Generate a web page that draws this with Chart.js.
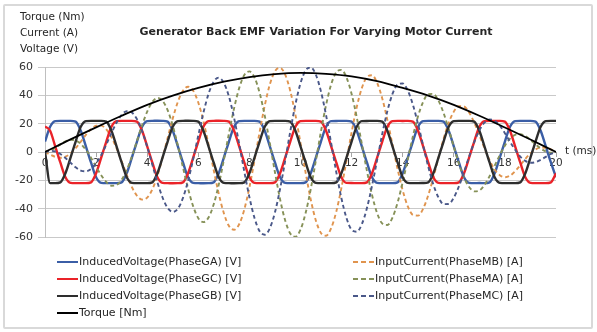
<!DOCTYPE html>
<html>
<head>
<meta charset="utf-8">
<title>Generator Back EMF Variation For Varying Motor Current</title>
<script src="https://cdn.jsdelivr.net/npm/chart.js@4.4.1/dist/chart.umd.min.js"></script>
<style>
html,body{margin:0;padding:0;background:#fff;}
#wrap{position:relative;width:597px;height:332px;overflow:hidden;font-family:"DejaVu Sans",sans-serif;color:#262626;}
#frame{position:absolute;left:3px;top:4px;width:590px;height:325px;border:2px solid #D9D9D9;border-radius:2px;box-sizing:border-box;}
#c{position:absolute;left:0;top:0;}
.lbl{position:absolute;white-space:nowrap;font-size:10.5px;line-height:13px;}
#title{position:absolute;left:0;width:632px;top:25px;text-align:center;font-weight:bold;font-size:11px;line-height:13px;white-space:nowrap;}
.leg{position:absolute;white-space:nowrap;font-size:11px;line-height:13px;height:13px;}
.sw{position:absolute;left:0;top:6px;width:21px;height:2px;}
.leg span{position:absolute;left:22px;top:0;}
</style>
</head>
<body>
<div id="wrap">
  <div id="frame"></div>
  <canvas id="c" width="597" height="332"></canvas>
  <div id="title">Generator Back EMF Variation For Varying Motor Current</div>
  <div class="lbl" style="left:20px;top:10px">Torque (Nm)</div>
  <div class="lbl" style="left:20px;top:26px">Current (A)</div>
  <div class="lbl" style="left:20px;top:42px">Voltage (V)</div>
  <div class="lbl" style="left:565px;top:144px">t (ms)</div>
  <div id="legend"></div>
</div>
<script>
// ---- data (time in ms) ----
const time = [0,0.2,0.4,0.6,0.8,1,1.2,1.4,1.6,1.8,2,2.2,2.4,2.6,2.8,3,3.2,3.4,3.6,3.8,4,4.2,4.4,4.6,4.8,5,5.2,5.4,5.6,5.8,6,6.2,6.4,6.6,6.8,7,7.2,7.4,7.6,7.8,8,8.2,8.4,8.6,8.8,9,9.2,9.4,9.6,9.8,10,10.2,10.4,10.6,10.8,11,11.2,11.4,11.6,11.8,12,12.2,12.4,12.6,12.8,13,13.2,13.4,13.6,13.8,14,14.2,14.4,14.6,14.8,15,15.2,15.4,15.6,15.8,16,16.2,16.4,16.6,16.8,17,17.2,17.4,17.6,17.8,18,18.2,18.4,18.6,18.8,19,19.2,19.4,19.6,19.8,20];

const voltGA = [7.4,17.8,21.8,22,22,22,21.4,15,4,-7.4,-17.8,-21.8,-22,-22,-22,-21.4,-15,-4,
7.4,17.8,21.8,22,22.1,22,21.4,15,4,-7.4,-17.8,-21.8,-22,-22.1,-22,-21.4,-15,-4,
7.4,17.8,21.8,22,22,22,21.4,15,4,-7.4,-17.8,-21.8,-22,-22,-22,-21.4,-15,-4,
7.4,17.8,21.8,21.9,22,22,21.4,15,4,-7.4,-17.8,-21.8,-22,-22,-22,-21.4,-15,-4,
7.4,17.8,21.8,22,22,22,21.4,15,4,-7.4,-17.8,-21.8,-22,-21.9,-22,-21.4,-15,-4,
7.4,17.8,21.8,22,22,22,21.4,15,4,-7.4,-17.8];

const voltGB = [0,-22,-22,-21.4,-15,-4,7.4,17.8,21.8,22,22,22,21.4,15,4,-7.4,-17.8,-21.8,
-22,-22,-22,-21.4,-15,-4,7.4,17.8,21.8,22,22.1,22,21.4,15,4,-7.4,-17.8,-21.8,
-22,-22.1,-22,-21.4,-15,-4,7.4,17.8,21.8,22,22,22,21.4,15,4,-7.4,-17.8,-21.8,
-22,-22,-22,-21.4,-15,-4,7.4,17.8,21.8,21.9,22,22,21.4,15,4,-7.4,-17.8,-21.8,
-22,-22,-21.9,-21.4,-15,-4,7.4,17.8,21.8,22,22,22,21.4,15,4,-7.4,-17.8,-21.8,
-22,-22,-22,-21.4,-15,-4,7.4,17.8,21.8,22,22];

const voltGC = [18,15,4,-7.4,-17.8,-21.8,-22,-22,-22,-21.4,-15,-4,7.4,17.8,21.8,22,22,22,
21.4,15,4,-7.4,-17.8,-21.8,-22,-22.1,-22,-21.4,-15,-4,7.4,17.8,21.8,22,22.1,22,
21.4,15,4,-7.4,-17.8,-21.8,-22,-22,-22,-21.4,-15,-4,7.4,17.8,21.8,22,22,22,
21.4,15,4,-7.4,-17.8,-21.8,-21.9,-22,-22,-21.4,-15,-4,7.4,17.8,21.8,22,21.9,22,
21.4,15,4,-7.4,-17.8,-21.8,-22,-22,-22,-21.4,-15,-4,7.4,17.8,21.8,22,22,22,
21.4,15,4,-7.4,-17.8,-21.8,-22,-22,-22,-21.4,-15];

const currMB = [0,-1.9,-3.4,-4.1,-3.3,-1.0,2.7,7.3,12.1,16.1,
18.5,18.6,15.9,10.4,2.7,-6.6,-16.2,-24.7,-30.9,-33.6,
-32.2,-26.4,-16.8,-4.1,9.9,23.7,35.4,43.3,46.1,43.3,
34.9,21.8,5.3,-12.5,-29.4,-43.2,-52.2,-54.9,-51.0,-40.6,
-25.0,-6.0,14.1,32.7,47.7,57.0,59.4,54.6,43.1,26.3,
6.3,-14.5,-33.5,-48.3,-57.2,-59.1,-53.8,-42.1,-25.5,-6.0,
13.8,31.6,45.1,52.9,54.2,48.8,37.8,22.6,5.3,-12.0,
-27.1,-38.4,-44.4,-44.9,-40.0,-30.5,-18.0,-4.1,9.3,20.6,
28.5,32.4,32.1,27.9,20.8,11.9,2.7,-5.8,-12.4,-16.4,
-17.8,-16.7,-13.6,-9.4,-4.9,-1.0,1.8,3.2,3.0,1.8,
0];

const currMA = [0,1.1,3.0,5.4,7.5,8.6,8.1,5.7,1.6,-4.0,
-10.4,-16.4,-21.2,-23.8,-23.3,-19.6,-12.7,-3.2,7.8,18.9,
28.5,35.3,38.2,36.2,29.5,18.6,4.6,-10.9,-25.9,-38.4,
-46.7,-49.5,-46.3,-37.1,-23.1,-5.6,13.1,30.8,45.1,54.3,
56.9,52.6,41.8,25.7,6.2,-14.3,-33.3,-48.3,-57.6,-59.8,
-54.8,-43.1,-26.3,-6.2,14.4,33.1,47.7,56.3,58.0,52.6,
41.0,24.7,5.8,-13.3,-30.4,-43.2,-50.5,-51.5,-46.3,-35.7,
-21.3,-5.0,11.2,25.2,35.4,40.8,41.0,36.2,27.5,16.1,
3.7,-8.2,-18.0,-24.7,-27.8,-27.2,-23.3,-17.1,-9.7,-2.1,
4.5,9.4,12.1,12.6,11.2,8.6,5.4,2.5,0.4,-0.5,
0];

const currMC = [0,0.8,0.4,-1.4,-4.2,-7.6,-10.8,-13.1,-13.6,-12.0,
-8.1,-2.1,5.3,13.3,20.7,26.2,28.8,27.9,23.1,14.8,
3.7,-8.9,-21.4,-32.1,-39.5,-42.3,-40.0,-32.4,-20.3,-5.0,
11.7,27.7,41.0,49.6,52.5,48.8,39.1,24.1,5.8,-13.7,
-31.9,-46.6,-55.9,-58.4,-53.8,-42.6,-26.1,-6.2,14.5,33.5,
48.5,57.6,59.7,54.6,42.8,26.0,6.2,-14.2,-32.5,-46.6,
-54.9,-56.3,-51.0,-39.6,-23.8,-5.6,12.7,28.9,41.0,47.7,
48.4,43.3,33.3,19.7,4.6,-10.3,-23.0,-32.1,-36.8,-36.7,
-32.2,-24.3,-14.1,-3.2,7.0,15.2,20.7,22.9,22.0,18.6,
13.3,7.3,1.6,-3.2,-6.3,-7.6,-7.2,-5.6,-3.4,-1.4,
0];

const torqueTime = [0,1,2,3,4,5,6,7,8,9,10,11,12,13,14,15,16,17,18,19,20];
const torque = [0,8.9,17.4,25.6,33.3,39.8,45.2,49.6,52.9,55.0,55.8,55.2,53.4,50.0,45.2,39.8,33.3,25.6,17.3,8.8,0];

const xTicks = [0,2,4,6,8,10,12,14,16,18,20];
const yTicks = [-60,-40,-20,0,20,40,60];

const seriesNames = {
  GA: 'InducedVoltage(PhaseGA) [V]',
  MB: 'InputCurrent(PhaseMB) [A]',
  GC: 'InducedVoltage(PhaseGC) [V]',
  MA: 'InputCurrent(PhaseMA) [A]',
  GB: 'InducedVoltage(PhaseGB) [V]',
  MC: 'InputCurrent(PhaseMC) [A]',
  TQ: 'Torque [Nm]'
};

// ---- styling ----
const colors = {GA:'#3B5EA6', MB:'#E0944E', GC:'#EA2329', MA:'#869158', GB:'#2E2E2E', MC:'#4A5889', TQ:'#000000'};
const FONT = '"DejaVu Sans", sans-serif';

function xy(xs, ys){ return xs.map((x,i)=>({x:x, y:ys[i]})); }

function solid(key, ys, order){
  return {label: seriesNames[key], data: xy(time, ys), borderColor: colors[key], borderWidth: 2.4, order: order};
}
function dashed(key, ys, order){
  return {label: seriesNames[key], data: xy(time, ys), borderColor: colors[key], borderWidth: 1.9, borderDash:[4,3], order: order};
}

const datasets = [
  solid('GA', voltGA, 7),
  dashed('MB', currMB, 6),
  solid('GC', voltGC, 5),
  dashed('MA', currMA, 4),
  solid('GB', voltGB, 3),
  dashed('MC', currMC, 2),
  {label: seriesNames.TQ, data: xy(torqueTime, torque), borderColor: colors.TQ, borderWidth: 1.8, order: 1}
];

new Chart(document.getElementById('c'), {
  type: 'line',
  data: {datasets: datasets},
  options: {
    responsive: false,
    animation: false,
    events: [],
    layout: {padding: {left: 15, right: 41, top: 67, bottom: 95}},
    elements: {point: {radius: 0}, line: {cubicInterpolationMode: 'monotone', fill: false}},
    plugins: {legend: {display: false}, tooltip: {enabled: false}, title: {display: false}},
    scales: {
      x: {
        type: 'linear', min: 0, max: 20,
        position: {y: 0},
        afterFit: function(s){ s.height = 0; },
        afterBuildTicks: function(s){ s.ticks = xTicks.map(v => ({value: v})); },
        ticks: {font: {family: FONT, size: 10.5}, color: '#333', padding: 1, maxRotation: 0, autoSkip: false},
        grid: {drawOnChartArea: false, tickLength: 4, color: '#A6A6A6'},
        border: {color: '#A6A6A6', width: 1}
      },
      y: {
        min: -60, max: 60,
        afterFit: function(s){ s.width = 30; },
        afterBuildTicks: function(s){ s.ticks = yTicks.map(v => ({value: v})); },
        ticks: {font: {family: FONT, size: 11}, color: '#333', padding: 5},
        grid: {color: '#C9C9C9', tickLength: 7},
        border: {color: '#BFBFBF', width: 1}
      }
    }
  }
});

// ---- legend (HTML, two columns) ----
const legendCols = [
  {x: 57, keys: ['GA','GC','GB','TQ']},
  {x: 353, keys: ['MB','MA','MC']}
];
const legendRowTop = [255, 272, 289, 306];
const dashedKeys = ['MB','MA','MC'];
const legend = document.getElementById('legend');
legendCols.forEach(col => {
  col.keys.forEach((k, r) => {
    const item = document.createElement('div');
    item.className = 'leg';
    item.style.left = col.x + 'px';
    item.style.top = legendRowTop[r] + 'px';
    const sw = document.createElement('div');
    sw.className = 'sw';
    if (dashedKeys.includes(k)) {
      sw.style.background = 'repeating-linear-gradient(to right,' + colors[k] + ' 0 5px, transparent 5px 8px)';
    } else {
      sw.style.background = colors[k];
    }
    const tx = document.createElement('span');
    tx.textContent = seriesNames[k];
    item.appendChild(sw);
    item.appendChild(tx);
    legend.appendChild(item);
  });
});
</script>
</body>
</html>
